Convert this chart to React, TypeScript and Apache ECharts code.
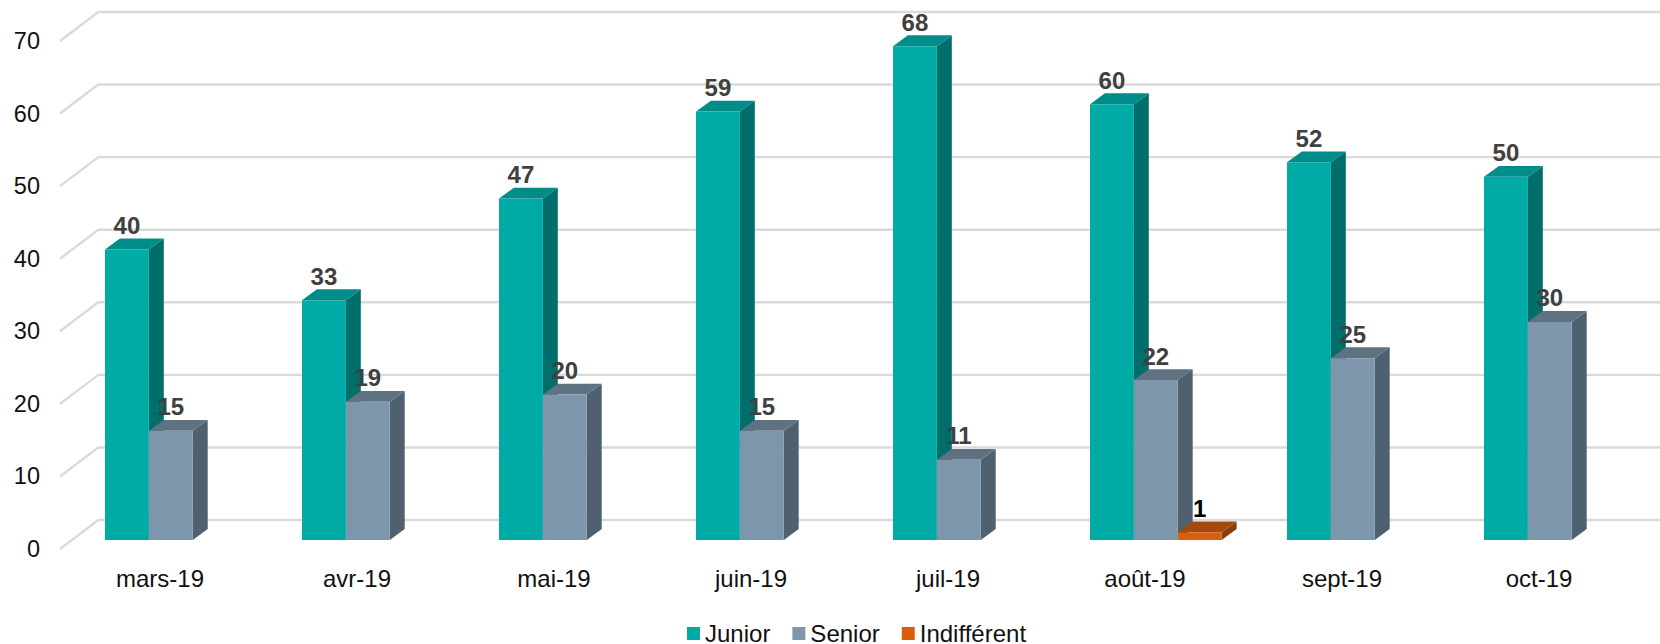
import React, { useEffect, useRef } from "react";
import * as echarts from "echarts";

const categories = ["mars-19", "avr-19", "mai-19", "juin-19", "juil-19", "août-19", "sept-19", "oct-19"];
const junior = [40, 33, 47, 59, 68, 60, 52, 50];
const senior = [15, 19, 20, 15, 11, 22, 25, 30];
const indifferent = [null, null, null, null, null, 1, null, null];
const valueTicks = [0, 10, 20, 30, 40, 50, 60, 70];

const FONT = '"Liberation Sans", Arial, sans-serif';
const DX = 14.9;
const DY = 10.9;
const FLOOR = 9.3;
const BAR_W = 43.9;

function barSeries(name: string, values: (number | null)[], offset: number, front: string, top: string, side: string, labelColor: string) {
  return {
    type: "custom",
    name,
    z: 3,
    silent: true,
    itemStyle: { color: front },
    encode: { x: 0, y: 1 },
    data: values.map((v, i) => [i, v]),
    renderItem: (_p: any, api: any) => {
      const v = api.value(1);
      if (v == null || isNaN(v)) return null;
      const c = api.coord([api.value(0), v]);
      const base = api.coord([api.value(0), 0]);
      const x0 = c[0] + offset;
      const x1 = x0 + BAR_W;
      const y0 = c[1] - FLOOR;
      const y1 = base[1] - 9;
      return {
        type: "group",
        children: [
          { type: "polygon", shape: { points: [[x1, y0], [x1 + DX, y0 - DY], [x1 + DX, y1 - DY], [x1, y1]] }, style: { fill: side } },
          { type: "polygon", shape: { points: [[x0, y0], [x0 + DX, y0 - DY], [x1 + DX, y0 - DY], [x1, y0]] }, style: { fill: top } },
          { type: "rect", shape: { x: x0, y: y0, width: BAR_W, height: y1 - y0 }, style: { fill: front } },
          {
            type: "text",
            style: {
              text: String(v),
              x: (x0 + x1) / 2,
              y: y0 - 24,
              fill: labelColor,
              font: `bold 24px ${FONT}`,
              align: "center",
              verticalAlign: "middle",
            },
          },
        ],
      };
    },
  };
}

export default function App() {
  const ref = useRef<HTMLDivElement>(null);
  useEffect(() => {
    const chart = echarts.init(ref.current!, undefined, { renderer: "svg" });
    chart.setOption({
      animation: false,
      backgroundColor: "#ffffff",
      legend: {
        data: ["Junior", "Senior", "Indifférent"],
        left: 687,
        top: 621.5,
        padding: 0,
        icon: "rect",
        itemWidth: 13,
        itemHeight: 13,
        itemGap: 22,
        textStyle: { fontFamily: FONT, fontSize: 24, lineHeight: 22, color: "#111111" },
      },
      grid: { left: 61.5, width: 1576, top: 41, height: 508 },
      xAxis: {
        type: "category",
        data: categories,
        axisLine: { show: false },
        axisTick: { show: false },
        axisLabel: { fontFamily: FONT, fontSize: 24, color: "#111111", margin: 17 },
        splitLine: { show: false },
      },
      yAxis: {
        type: "value",
        min: 0,
        max: 70,
        interval: 10,
        axisLine: { show: false },
        axisTick: { show: false },
        splitLine: { show: false },
        axisLabel: { fontFamily: FONT, fontSize: 23.5, color: "#111111", margin: 21.5 },
      },
      series: [
        {
          type: "custom",
          name: "walls",
          z: 1,
          silent: true,
          encode: { x: 0, y: 1 },
          data: valueTicks.map((t) => [0, t]),
          renderItem: (_p: any, api: any) => {
            const c = api.coord([0, api.value(1)]);
            return {
              type: "polyline",
              shape: { points: [[60, c[1]], [98.3, c[1] - 29], [1660, c[1] - 29]] },
              style: { stroke: "#dadada", lineWidth: 2.4, fill: "none" },
            };
          },
        },
        barSeries("Junior", junior, -55, "#00aba6", "#008c88", "#006f6c", "#404040"),
        barSeries("Senior", senior, -11.1, "#7d96ab", "#5f7282", "#4f616e", "#404040"),
        barSeries("Indifférent", indifferent, 32.8, "#d95f0e", "#a54a0b", "#8a3e09", "#000000"),
      ],
    });
    return () => chart.dispose();
  }, []);
  return (
    <div style={{ position: "absolute", left: 0, top: 0, width: 1660, height: 644, overflow: "hidden" }}>
      <div ref={ref} style={{ width: 1660, height: 644 }} />
    </div>
  );
}
